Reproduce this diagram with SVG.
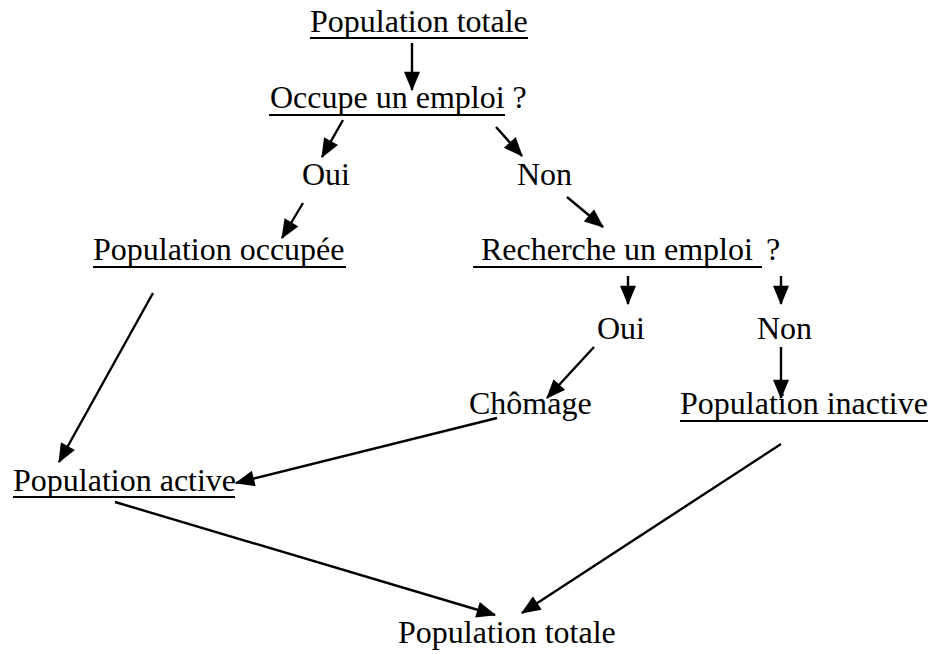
<svg xmlns="http://www.w3.org/2000/svg" width="931" height="654" viewBox="0 0 931 654" font-family="'Liberation Serif', 'Times New Roman', 'DejaVu Serif', serif" font-size="32">
<style>
text{font-family:'Liberation Serif','Times New Roman','DejaVu Serif',serif;font-size:32px;fill:#000}
.u{stroke:#000;stroke-width:2}
.c{stroke:#000;stroke-width:2.4;fill:none;marker-end:url(#ah)}
</style>
<defs>
<marker id="ah" markerUnits="userSpaceOnUse" markerWidth="20" markerHeight="16" viewBox="0 0 17 14" refX="16" refY="7" orient="auto">
<path d="M0,0 L17,7 L0,14 Z" fill="#000"/>
</marker>
</defs>
<rect width="931" height="654" fill="#fff"/>
<g id="n-pop-totale-top"><text x="310" y="32">Population totale</text><line class="u" x1="310" y1="38" x2="528" y2="38"/></g>
<g id="n-occupe"><text x="270" y="108">Occupe un emploi ?</text><line class="u" x1="269" y1="115" x2="505" y2="115"/></g>
<g id="n-oui1"><text x="302" y="185">Oui</text></g>
<g id="n-non1"><text x="517" y="185">Non</text></g>
<g id="n-pop-occupee"><text x="93" y="260">Population occupée</text><line class="u" x1="93" y1="267" x2="346" y2="267"/></g>
<g id="n-recherche"><text x="481" y="260">Recherche un emploi</text><text x="766" y="260">?</text><line class="u" x1="473" y1="267" x2="762" y2="267"/></g>
<g id="n-oui2"><text x="597" y="339">Oui</text></g>
<g id="n-non2"><text x="757" y="339">Non</text></g>
<g id="n-chomage"><text x="469" y="414">Chômage</text></g>
<g id="n-pop-inactive"><text x="680" y="414">Population inactive</text><line class="u" x1="680" y1="421" x2="928" y2="421"/></g>
<g id="n-pop-active"><text x="13" y="491">Population active</text><line class="u" x1="13" y1="497" x2="235" y2="497"/></g>
<g id="n-pop-totale-bottom"><text x="398" y="643">Population totale</text></g>
<g id="connectors">
<line class="c" x1="412" y1="43" x2="412" y2="90"/>
<line class="c" x1="343" y1="120" x2="322" y2="157"/>
<line class="c" x1="496" y1="127" x2="522" y2="156"/>
<line class="c" x1="303" y1="203" x2="282" y2="238"/>
<line class="c" x1="567" y1="197" x2="603" y2="227"/>
<line class="c" x1="628" y1="276" x2="628" y2="304"/>
<line class="c" x1="781" y1="276" x2="781" y2="304"/>
<line class="c" x1="594" y1="347" x2="547" y2="398"/>
<line class="c" x1="781" y1="347" x2="781" y2="398"/>
<line class="c" x1="153" y1="293" x2="59" y2="462"/>
<line class="c" x1="497" y1="418" x2="236" y2="483"/>
<line class="c" x1="115" y1="502" x2="495" y2="615"/>
<line class="c" x1="781" y1="444" x2="522" y2="613"/>
</g>
</svg>
